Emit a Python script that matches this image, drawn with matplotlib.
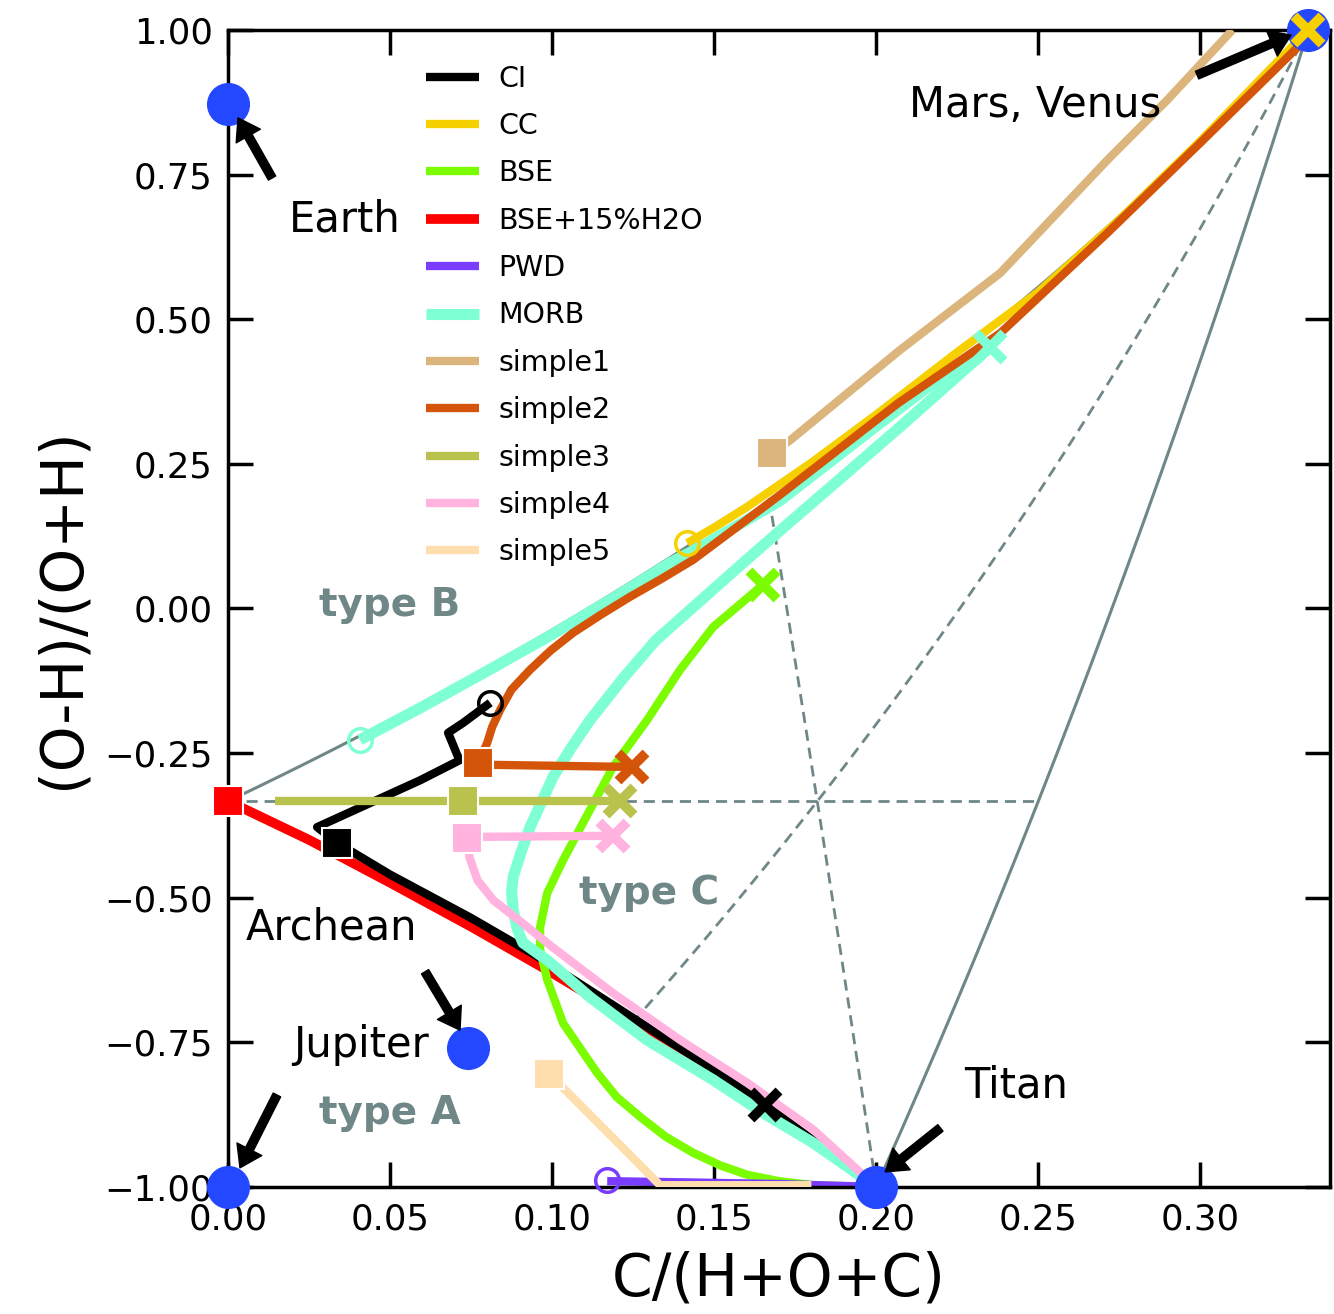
import numpy as np
import matplotlib
matplotlib.use("Agg")
import matplotlib.pyplot as plt

# end-member molecules as atom counts (H, O, C)
H2O = (2, 1, 0)
CO2 = (0, 2, 1)
CH4 = (4, 0, 1)

# model tracks: x = C/(H+O+C), y = (O-H)/(O+H)
ci_x = [0.0809, 0.0725, 0.0679, 0.0691, 0.0707, 0.0716, 0.0593, 0.0275, 0.0336,
        0.05, 0.075, 0.095, 0.12, 0.145, 0.1657, 0.2]
ci_y = [-0.163, -0.198, -0.215, -0.231, -0.253, -0.262, -0.297, -0.378, -0.405,
        -0.46, -0.535, -0.60, -0.69, -0.78, -0.858, -1.0]

cc_x = [0.1417, 0.15, 0.16, 0.18, 0.20, 0.225, 0.25, 0.275, 0.30, 0.3333]
cc_y = [0.113, 0.14, 0.175, 0.252, 0.335, 0.443, 0.547, 0.672, 0.808, 1.0]

bse_x = [0.1651, 0.1497, 0.1395, 0.1293, 0.1188, 0.1117, 0.1034, 0.0985, 0.0963, 0.0963,
         0.0985, 0.1034, 0.1139, 0.120, 0.1272, 0.135, 0.1435, 0.152, 0.1602, 0.170,
         0.1806, 0.2]
bse_y = [0.041, -0.032, -0.106, -0.193, -0.274, -0.348, -0.435, -0.492, -0.551, -0.590,
         -0.642, -0.717, -0.803, -0.845, -0.879, -0.913, -0.941, -0.963, -0.979, -0.99,
         -0.997, -1.0]

bsew_x = [0.0, 0.025, 0.05, 0.075, 0.10, 0.125, 0.15, 0.175, 0.2]
bsew_y = [-0.333, -0.40, -0.474, -0.55, -0.63, -0.714, -0.804, -0.899, -1.0]

pwd_x = [0.117, 0.14, 0.17, 0.2]
pwd_y = [-0.99, -0.992, -0.995, -1.0]

morb_x = [0.0407, 0.06, 0.08, 0.10, 0.12, 0.1364, 0.1457, 0.17, 0.20, 0.22, 0.2352,
          0.2074, 0.1694, 0.160, 0.1475, 0.132, 0.122, 0.1117, 0.106, 0.1003, 0.0932,
          0.0905, 0.088, 0.0875, 0.088, 0.0893, 0.091, 0.0985, 0.1117, 0.1293, 0.1497,
          0.1651, 0.1806, 0.2]
morb_y = [-0.227, -0.17, -0.108, -0.045, 0.022, 0.079, 0.106, 0.185, 0.315, 0.40, 0.452,
          0.314, 0.130, 0.084, 0.022, -0.055, -0.12, -0.193, -0.24, -0.291, -0.378,
          -0.42, -0.464, -0.49, -0.521, -0.555, -0.578, -0.608, -0.672, -0.746, -0.815,
          -0.872, -0.924, -1.0]

s1_x = [0.1679, 0.1735, 0.2074, 0.2383, 0.2713, 0.2898, 0.3099]
s1_y = [0.269, 0.291, 0.447, 0.580, 0.775, 0.879, 1.0]

s2_x = [0.0772, 0.08, 0.0815, 0.084, 0.0875, 0.0932, 0.0995, 0.1065, 0.115, 0.124,
        0.134, 0.1435, 0.17, 0.2068, 0.2383, 0.2713, 0.30, 0.33, 0.3333]
s2_y = [-0.268, -0.232, -0.205, -0.175, -0.14, -0.106, -0.073, -0.042, -0.011, 0.020,
        0.052, 0.084, 0.195, 0.355, 0.476, 0.649, 0.805, 0.97, 1.0]
s2_hx = [0.0772, 0.1247]
s2_hy = [-0.270, -0.274]

s3_x = [0.0145, 0.121]
s3_y = [-0.333, -0.333]

s4_x = [0.0738, 0.0745, 0.077, 0.082, 0.09, 0.1, 0.1188, 0.1395, 0.1602, 0.1806, 0.2]
s4_y = [-0.397, -0.43, -0.47, -0.505, -0.54, -0.585, -0.665, -0.746, -0.820, -0.901, -1.0]
s4_hx = [0.0738, 0.1188]
s4_hy = [-0.395, -0.393]

s5_x = [0.0991, 0.104, 0.1333, 0.18]
s5_y = [-0.805, -0.832, -0.997, -0.997]

# start / intermediate / end markers
circ_x = [0.0809, 0.1417, 0.117, 0.0407]
circ_y = [-0.163, 0.113, -0.988, -0.227]
circ_c = ["black", "#f7d000", "#7a3dff", "#7fffd4"]

sq_x = [0.0336, 0.0, 0.1679, 0.0772, 0.0725, 0.0738, 0.0991]
sq_y = [-0.405, -0.333, 0.269, -0.268, -0.333, -0.397, -0.805]
sq_c = ["black", "red", "#dcb57c", "#d4550a", "#b9c24c", "#ffb3de", "#ffdeae"]

x_x = [0.1657, 0.3333, 0.1651, 0.2352, 0.1247, 0.121, 0.1188]
x_y = [-0.858, 1.0, 0.041, 0.452, -0.274, -0.333, -0.393]
x_c = ["black", "#f7d000", "#7cfc00", "#7fffd4", "#d4550a", "#b9c24c", "#ffb3de"]

# planets
planet_x = [0.0, 0.074, 0.0, 0.2, 0.3333]
planet_y = [0.872, -0.76, -1.0, -1.0, 1.0]

grey = "#6f8787"


def mix(p, q, n=200):
    f = np.linspace(0, 1, n)[:, None]
    c = (1 - f) * np.array(p, float) + f * np.array(q, float)
    h, o, cc = c.T
    return cc / (h + o + cc), (o - h) / (o + h)


def fmt(v, pos):
    return ("%.2f" % v).replace("-", "\u2212")


fig = plt.figure(figsize=(13.34, 13.14), dpi=100)
ax = fig.add_axes([0.1709, 0.0967, 0.8261, 0.8805])

# triangle edges and medians
for p, q in [(H2O, CO2), (CO2, CH4), (H2O, CH4)]:
    ax.plot(*mix(p, q), color=grey, lw=2.2, zorder=1)
for p, q in [(H2O, (4, 2, 2)), (CO2, (6, 1, 1)), (CH4, (2, 3, 1))]:
    ax.plot(*mix(p, q), color=grey, lw=2, ls=(0, (4, 2.5)), zorder=1)

lw = 6
kw = dict(solid_joinstyle="round", solid_capstyle="butt")
ax.plot(bsew_x, bsew_y, color="red", lw=7, label="BSE+15%H2O", zorder=2, **kw)
ax.plot(ci_x, ci_y, color="black", lw=lw, label="CI", zorder=2.1, **kw)
ax.plot(cc_x, cc_y, color="#f7d000", lw=lw, label="CC", zorder=2.2, **kw)
ax.plot(bse_x, bse_y, color="#7cfc00", lw=lw, label="BSE", zorder=2.3, **kw)
ax.plot(pwd_x, pwd_y, color="#7a3dff", lw=lw, label="PWD", zorder=2.4, **kw)
ax.plot(morb_x, morb_y, color="#7fffd4", lw=8, label="MORB", zorder=2.5, **kw)
ax.plot(s1_x, s1_y, color="#dcb57c", lw=lw, label="simple1", zorder=2.6, **kw)
ax.plot(s2_x, s2_y, color="#d4550a", lw=lw, label="simple2", zorder=2.7, **kw)
ax.plot(s2_hx, s2_hy, color="#d4550a", lw=lw, zorder=2.7, **kw)
ax.plot(s3_x, s3_y, color="#b9c24c", lw=lw, label="simple3", zorder=2.8, **kw)
ax.plot(s4_x, s4_y, color="#ffb3de", lw=lw, label="simple4", zorder=2.9, **kw)
ax.plot(s4_hx, s4_hy, color="#ffb3de", lw=lw, zorder=2.9, **kw)
ax.plot(s5_x, s5_y, color="#ffdeae", lw=lw, label="simple5", zorder=2.95, **kw)

for x, y, c in zip(circ_x, circ_y, circ_c):
    ax.plot(x, y, "o", ms=17, mfc="none", mec=c, mew=2.5, zorder=4, clip_on=False)
for x, y, c in zip(sq_x, sq_y, sq_c):
    ax.plot(x, y, "s", ms=21, mfc=c, mec="white", mew=1.5, zorder=4, clip_on=False)

ax.plot(planet_x, planet_y, "o", color="#2448ff", ms=30, zorder=5, clip_on=False)

for x, y, c in zip(x_x, x_y, x_c):
    ax.plot(x, y, "x", ms=20, mec=c, mew=7, zorder=6, clip_on=False)

# labels and arrows
arrow = dict(facecolor="black", edgecolor="black", width=6, headwidth=20,
             headlength=15, shrink=0)
ax.annotate("", xy=(0.0031, 0.848), xytext=(0.0136, 0.744), arrowprops=arrow, zorder=7)
ax.annotate("", xy=(0.328, 0.991), xytext=(0.299, 0.922), arrowprops=arrow, zorder=7)
ax.annotate("", xy=(0.0716, -0.729), xytext=(0.0608, -0.628), arrowprops=arrow, zorder=7)
ax.annotate("", xy=(0.0037, -0.967), xytext=(0.0151, -0.841), arrowprops=arrow, zorder=7)
ax.annotate("", xy=(0.2028, -0.974), xytext=(0.2198, -0.898), arrowprops=arrow, zorder=7)

fs = 30
ax.text(0.036, 0.672, "Earth", fontsize=fs, ha="center", va="center")
ax.text(0.249, 0.870, "Mars, Venus", fontsize=fs, ha="center", va="center")
ax.text(0.032, -0.551, "Archean", fontsize=fs, ha="center", va="center")
ax.text(0.041, -0.755, "Jupiter", fontsize=fs, ha="center", va="center")
ax.text(0.243, -0.824, "Titan", fontsize=fs, ha="center", va="center")
ax.text(0.05, 0.006, "type B", fontsize=28, weight="bold", color=grey, ha="center", va="center")
ax.text(0.130, -0.492, "type C", fontsize=28, weight="bold", color=grey, ha="center", va="center")
ax.text(0.05, -0.872, "type A", fontsize=28, weight="bold", color=grey, ha="center", va="center")

ax.set_xlim(0, 0.34)
ax.set_ylim(-1, 1)
ax.set_xticks([0.0, 0.05, 0.10, 0.15, 0.20, 0.25, 0.30])
ax.set_yticks([-1.0, -0.75, -0.5, -0.25, 0.0, 0.25, 0.5, 0.75, 1.0])
ax.xaxis.set_major_formatter(matplotlib.ticker.FuncFormatter(fmt))
ax.yaxis.set_major_formatter(matplotlib.ticker.FuncFormatter(fmt))
ax.tick_params(direction="in", length=18, width=2.5, labelsize=25.5, pad=11,
               top=True, right=True)
for s in ax.spines.values():
    s.set_linewidth(2.5)

ax.set_xlabel("C/(H+O+C)", fontsize=42, labelpad=10)
ax.set_ylabel("(O-H)/(O+H)", fontsize=42, labelpad=10)

handles, labels = ax.get_legend_handles_labels()
order = ["CI", "CC", "BSE", "BSE+15%H2O", "PWD", "MORB",
         "simple1", "simple2", "simple3", "simple4", "simple5"]
hmap = dict(zip(labels, handles))
ax.legend([hmap[k] for k in order], order, loc="upper left",
          bbox_to_anchor=(0.1797, 0.9700), frameon=False, fontsize=20.5,
          handlelength=1.85, handletextpad=0.7, labelspacing=0.68,
          borderpad=0, borderaxespad=0)

fig.savefig("out.png", dpi=100)
